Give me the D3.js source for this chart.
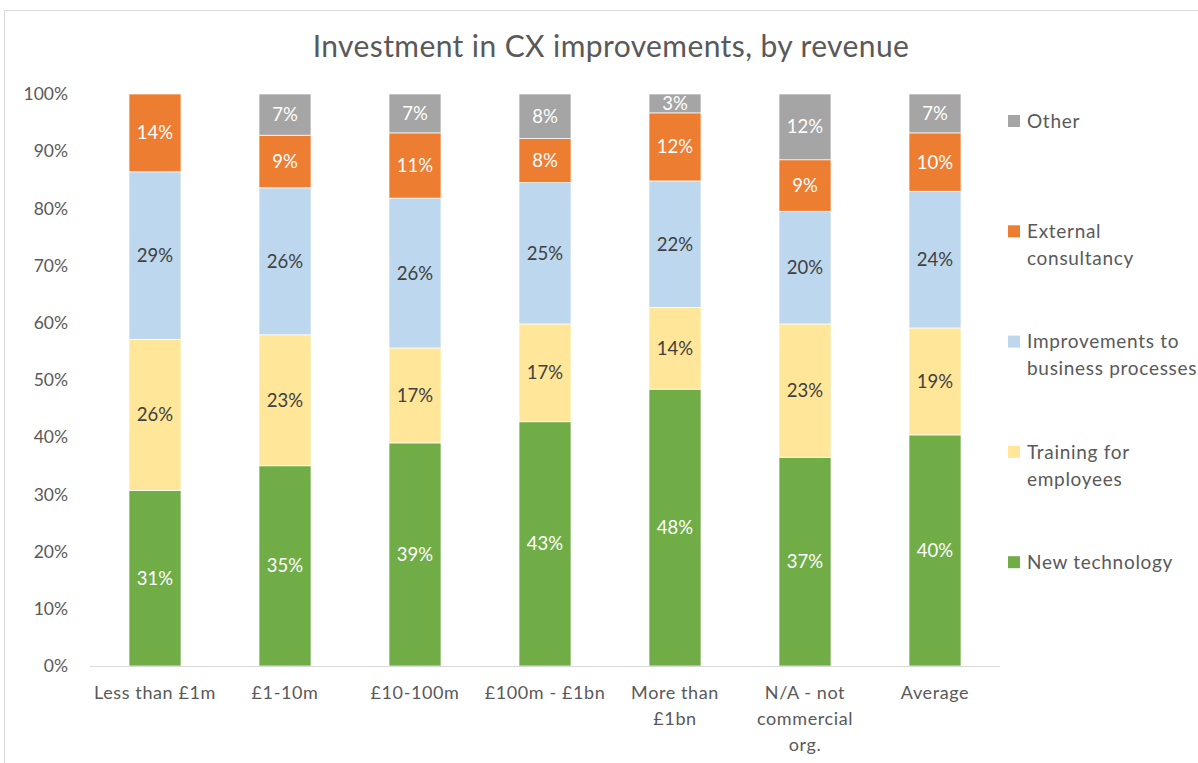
<!DOCTYPE html>
<html>
<head>
<meta charset="utf-8">
<script src="https://cdn.jsdelivr.net/npm/d3@7"></script>
<style>
  body { margin: 0; background: #fff; }
  text { font-family: Lato, "Open Sans", sans-serif; }
</style>
</head>
<body>
<script>
// categories and tick labels
const categories = ["Less than £1m", "£1-10m", "£10-100m", "£100m - £1bn", "More than £1bn", "N/A - not commercial org.", "Average"];
const tickLines = [["Less than £1m"], ["£1-10m"], ["£10-100m"], ["£100m - £1bn"], ["More than", "£1bn"], ["N/A - not", "commercial", "org."], ["Average"]];

// series values (share of investment), bottom to top
const newTechnology = [0.307, 0.350, 0.390, 0.427, 0.484, 0.365, 0.404];
const training      = [0.264, 0.229, 0.166, 0.171, 0.143, 0.233, 0.187];
const improvements  = [0.293, 0.257, 0.262, 0.247, 0.221, 0.197, 0.239];
const external      = [0.136, 0.092, 0.114, 0.077, 0.119, 0.090, 0.102];
const other         = [0.000, 0.072, 0.068, 0.078, 0.033, 0.115, 0.068];

const seriesNames = ["New technology", "Training for employees", "Improvements to business processes", "External consultancy", "Other"];
const legendLines = [["New technology"], ["Training for", "employees"], ["Improvements to", "business processes"], ["External", "consultancy"], ["Other"]];
const colors = ["#70AD47", "#FFE699", "#BDD7EE", "#ED7D31", "#A5A5A5"];
const labelColors = ["#fff", "#404040", "#404040", "#fff", "#fff"];
const yTicks = [0, 0.1, 0.2, 0.3, 0.4, 0.5, 0.6, 0.7, 0.8, 0.9, 1.0];

const width = 1198, height = 763;
const margin = {top: 94, left: 90, right: 198, bottom: 97};

const svg = d3.select("body").append("svg")
    .attr("width", width)
    .attr("height", height);

// chart frame
svg.append("rect")
    .attr("x", 4.5).attr("y", 10.5)
    .attr("width", 1220).attr("height", 800)
    .attr("fill", "#fff")
    .attr("stroke", "#d9d9d9");

svg.append("text")
    .attr("x", 611).attr("y", 57)
    .attr("text-anchor", "middle")
    .attr("font-size", 30)
    .attr("letter-spacing", 0.4)
    .attr("fill", "#595959")
    .text("Investment in CX improvements, by revenue");

const x = d3.scaleBand()
    .domain(categories)
    .range([margin.left, width - margin.right])
    .paddingInner(0.6)
    .paddingOuter(0.3);

const y = d3.scaleLinear()
    .domain([0, 1])
    .range([height - margin.bottom, margin.top]);

// build table for stack
const table = categories.map((c, i) => ({
    cat: c,
    s0: newTechnology[i], s1: training[i], s2: improvements[i], s3: external[i], s4: other[i]
}));
const stack = d3.stack().keys(["s0", "s1", "s2", "s3", "s4"])(table);

// y axis labels
svg.append("g")
    .selectAll("text").data(yTicks).join("text")
    .attr("x", 68)
    .attr("y", d => y(d))
    .attr("dy", "0.35em")
    .attr("text-anchor", "end")
    .attr("font-size", 17.5)
    .attr("fill", "#595959")
    .text(d => d3.format(".0%")(d));

// bars
const layers = svg.append("g").selectAll("g").data(stack).join("g")
    .attr("fill", (d, i) => colors[i]);

layers.selectAll("rect").data(d => d.filter(p => p[1] - p[0] > 0)).join("rect")
    .attr("x", d => x(d.data.cat))
    .attr("y", d => y(d[1]))
    .attr("width", x.bandwidth())
    .attr("height", d => y(d[0]) - y(d[1]))
    .attr("stroke", "#fff")
    .attr("stroke-width", 0.7);

// data labels
layers.each(function(layer, i) {
    d3.select(this).selectAll("text").data(layer.filter(p => p[1] - p[0] > 0)).join("text")
        .attr("x", d => x(d.data.cat) + x.bandwidth() / 2)
        .attr("y", d => y((d[0] + d[1]) / 2))
        .attr("dy", "0.35em")
        .attr("text-anchor", "middle")
        .attr("font-size", 18.5)
        .attr("fill", labelColors[i])
        .text(d => d3.format(".0%")(d[1] - d[0]));
});

// x axis line
svg.append("line")
    .attr("x1", margin.left).attr("x2", width - margin.right)
    .attr("y1", y(0) + 0.5).attr("y2", y(0) + 0.5)
    .attr("stroke", "#d9d9d9");

// category labels
const xl = svg.append("g").selectAll("text").data(categories).join("text")
    .attr("text-anchor", "middle")
    .attr("font-size", 18)
    .attr("letter-spacing", 0.6)
    .attr("fill", "#595959")
    .attr("transform", d => "translate(" + (x(d) + x.bandwidth() / 2) + "," + (y(0) + 33) + ")");
xl.selectAll("tspan").data((d, i) => tickLines[i]).join("tspan")
    .attr("x", 0)
    .attr("dy", (d, j) => j === 0 ? 0 : 26)
    .text(d => d);

// legend, top entry is the last series
const legend = svg.append("g").selectAll("g").data(seriesNames.slice().reverse()).join("g")
    .attr("transform", (d, i) => "translate(1008," + (121 + i * 110.3) + ")");
legend.append("rect")
    .attr("x", 0).attr("y", -6)
    .attr("width", 12).attr("height", 12)
    .attr("fill", (d, i) => colors[4 - i]);
legend.append("text")
    .attr("x", 19)
    .attr("dy", "0.35em")
    .attr("font-size", 19)
    .attr("letter-spacing", 0.7)
    .attr("fill", "#595959")
    .selectAll("tspan").data((d, i) => legendLines[4 - i]).join("tspan")
    .attr("x", 19)
    .attr("dy", (d, j) => j === 0 ? "0.35em" : 27)
    .text(d => d);
</script>
</body>
</html>
